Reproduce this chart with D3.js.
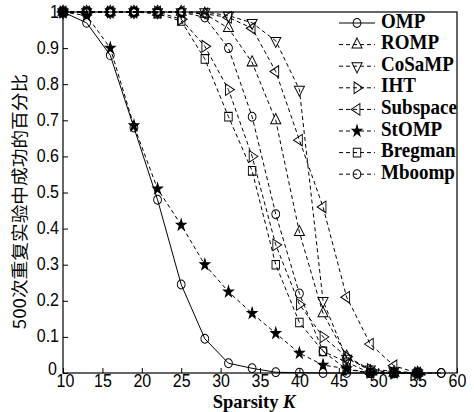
<!DOCTYPE html>
<html>
<head>
<meta charset="utf-8">
<script src="https://cdn.jsdelivr.net/npm/d3@7"></script>
<style>
  body { margin: 0; background: #fff; }
  svg { display: block; }
</style>
</head>
<body>
<div id="chart"></div>
<script>
// sparsity levels and success ratios
var sparsity = [10, 13, 16, 19, 22, 25, 28, 31, 34, 37, 40, 43, 46, 49, 52, 55, 58];
var ompVals      = [1.0, 0.97, 0.88, 0.68, 0.48, 0.245, 0.095, 0.027, 0.013, 0.002, 0.001, 0, 0, 0, 0, 0, 0];
var rompVals     = [1, 1, 1, 1, 1, 1, 0.995, 0.955, 0.86, 0.70, 0.39, 0.165, 0.045, 0.005, 0, 0];
var cosampVals   = [1, 1, 1, 1, 1, 1, 1, 0.99, 0.97, 0.92, 0.785, 0.20, 0.04, 0.01, 0.005, 0];
var ihtVals      = [1, 1, 1, 1, 1, 0.98, 0.905, 0.785, 0.60, 0.355, 0.19, 0.10, 0.045, 0.01, 0, 0];
var subspaceVals = [1, 1, 1, 1, 1, 1, 0.995, 0.985, 0.955, 0.835, 0.645, 0.46, 0.21, 0.08, 0.02, 0];
var stompVals    = [1, 0.99, 0.90, 0.685, 0.51, 0.41, 0.30, 0.225, 0.165, 0.11, 0.055, 0.022, 0.012, 0, 0, 0];
var bregmanVals  = [1, 1, 1, 1, 0.995, 0.975, 0.87, 0.71, 0.56, 0.30, 0.14, 0.06, 0.01, 0, 0, 0];
var mboompVals   = [1, 1, 1, 1, 1, 1, 0.985, 0.90, 0.71, 0.44, 0.22, 0.06, 0.03, 0, 0, 0, 0];

var seriesNames = ["OMP", "ROMP", "CoSaMP", "IHT", "Subspace", "StOMP", "Bregman", "Mboomp"];
var xTicks = [10, 15, 20, 25, 30, 35, 40, 45, 50, 55, 60];
var yTicks = [0, 0.1, 0.2, 0.3, 0.4, 0.5, 0.6, 0.7, 0.8, 0.9, 1];

var series = [
    {name: "OMP", values: ompVals, marker: "circle", dash: null},
    {name: "ROMP", values: rompVals, marker: "tri-up", dash: "4,3"},
    {name: "CoSaMP", values: cosampVals, marker: "tri-down", dash: "4,3"},
    {name: "IHT", values: ihtVals, marker: "tri-right", dash: "4,3"},
    {name: "Subspace", values: subspaceVals, marker: "tri-left", dash: "4,3"},
    {name: "StOMP", values: stompVals, marker: "star", dash: "4,3"},
    {name: "Bregman", values: bregmanVals, marker: "square", dash: "4,3"},
    {name: "Mboomp", values: mboompVals, marker: "circle", dash: "4,3"}
];

var margin = {top: 12, right: 17, bottom: 39, left: 63},
    width = 474 - margin.left - margin.right,
    height = 412 - margin.top - margin.bottom;

var svg = d3.select("#chart")
    .append("svg")
    .attr("width", width + margin.left + margin.right)
    .attr("height", height + margin.top + margin.bottom)
    .append("g")
    .attr("transform", "translate(" + margin.left + "," + margin.top + ")");

var x = d3.scaleLinear().domain([10, 60]).range([0, width]);
var y = d3.scaleLinear().domain([0, 1]).range([height, 0]);

// marker path + rotation
function markerPath(type) {
    var sym;
    if (type === "circle") sym = d3.symbol().type(d3.symbolCircle).size(48);
    else if (type === "square") sym = d3.symbol().type(d3.symbolSquare).size(56);
    else if (type === "star") sym = d3.symbol().type(d3.symbolStar).size(30);
    else sym = d3.symbol().type(d3.symbolTriangle).size(44);
    return sym();
}
function markerRot(type) {
    if (type === "tri-down") return 180;
    if (type === "tri-right") return 90;
    if (type === "tri-left") return -90;
    return 0;
}
function drawMarker(g, type, cx, cy) {
    g.append("path")
        .attr("d", markerPath(type))
        .attr("transform", "translate(" + cx + "," + cy + ") scale(1,1.15) rotate(" + markerRot(type) + ")")
        .attr("fill", type === "star" ? "#000" : "#fff")
        .attr("fill-opacity", type === "star" ? 1 : 0)
        .attr("stroke", "#000")
        .attr("stroke-width", 0.9);
}

// axes (ticks inward)
var xAxis = svg.append("g")
    .attr("transform", "translate(0," + height + ")")
    .call(d3.axisBottom(x).tickValues(xTicks).tickSize(-5).tickFormat(d3.format("d")));
xAxis.selectAll("text")
    .attr("y", 0).attr("dy", null)
    .attr("transform", function (d) { return "translate(" + (d === 10 ? 2 : 0) + ",9.5) scale(1,1.12)"; })
    .attr("dominant-baseline", "middle");

var yAxis = svg.append("g")
    .call(d3.axisLeft(y).tickValues(yTicks).tickSize(-5).tickFormat(function (d) {
        return d === 0 ? "0" : d === 1 ? "1" : d3.format(".1f")(d);
    }));
yAxis.selectAll(".tick text")
    .attr("x", 0).attr("dy", null)
    .attr("transform", function (d) { return d === 0 ? "translate(-6,-4) scale(1,1.2)" : "translate(-4,0) scale(1,1.2)"; })
    .attr("dominant-baseline", "middle");

svg.selectAll(".domain").remove();
svg.selectAll(".tick line").attr("stroke", "#000");
svg.selectAll(".tick text")
    .style("font-family", "'Liberation Sans', Arial, sans-serif")
    .style("font-size", "16px")
    .attr("fill", "#000");

// lines + markers
var line = d3.line()
    .x(function (d) { return x(d.k); })
    .y(function (d) { return y(d.v); });

series.forEach(function (s) {
    var pts = s.values.map(function (v, i) { return {k: sparsity[i], v: v}; });
    var g = svg.append("g");
    g.append("path")
        .datum(pts)
        .attr("d", line)
        .attr("fill", "none")
        .attr("stroke", "#000")
        .attr("stroke-width", 1)
        .attr("stroke-dasharray", s.dash);
    pts.forEach(function (p) {
        drawMarker(g, s.marker, x(p.k), y(p.v));
    });
});

// frame
svg.append("rect")
    .attr("width", width)
    .attr("height", height)
    .attr("fill", "none")
    .attr("stroke", "#000")
    .attr("stroke-width", 1.2);

// legend
var legend = svg.append("g").attr("transform", "translate(276,11)");
series.forEach(function (s, i) {
    var g = legend.append("g").attr("transform", "translate(0," + (i * 21.6) + ")");
    g.append("line")
        .attr("x1", 0).attr("x2", 36)
        .attr("stroke", "#000")
        .attr("stroke-width", 1)
        .attr("stroke-dasharray", s.dash);
    drawMarker(g, s.marker, 18, 0);
    g.append("text")
        .attr("transform", "translate(42,0) scale(1,1.06)")
        .attr("dominant-baseline", "middle")
        .style("font-family", "'Liberation Serif', 'Times New Roman', serif")
        .style("font-size", "19px")
        .style("font-weight", "bold")
        .text(s.name);
});

// axis titles
var xl = svg.append("text")
    .attr("transform", "translate(" + (width / 2 - 6) + "," + (height + 30.5) + ")")
    .attr("text-anchor", "middle")
    .attr("dominant-baseline", "middle")
    .style("font-family", "'Liberation Serif', 'Times New Roman', serif")
    .style("font-size", "18.5px")
    .style("font-weight", "bold");
xl.append("tspan").text("Sparsity ");
xl.append("tspan").style("font-style", "italic").text("K");

svg.append("text")
    .attr("transform", "translate(-42," + (height / 2 + 9) + ") rotate(-90) scale(1.1,1)")
    .attr("text-anchor", "middle")
    .attr("dominant-baseline", "middle")
    .style("font-family", "'Noto Sans CJK SC', sans-serif")
    .style("font-size", "17px")
    .text("500次重复实验中成功的百分比");
</script>
</body>
</html>
